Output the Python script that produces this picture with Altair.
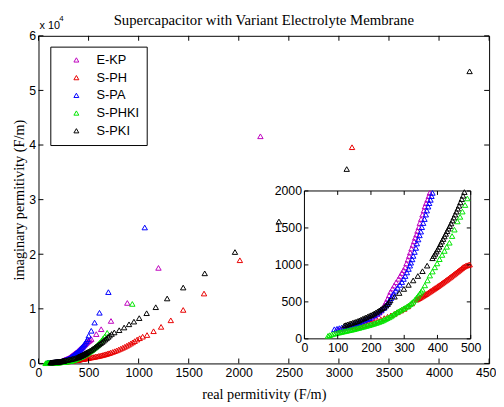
import altair as alt
import pandas as pd

chart_title = "Supercapacitor with Variant Electrolyte Membrane"
x_title = "real permitivity (F/m)"
y_title = "imaginary permitivity (F/m)"
exponent_base = "x 10"
exponent_power = "4"

series_names = ["E-KP", "S-PH", "S-PA", "S-PHKI", "S-PKI"]
series_colors = ["#BF00BF", "#E80000", "#0000FF", "#00E600", "#000000"]

# (real, imaginary) pairs
ekp = [(100,120),(108,127),(115,135),(122,142),(130,150),(138,160),(145,170),(152,180),(160,190),
       (168,202),(175,215),(182,230),(190,245),(198,265),(205,285),(212,310),(220,335),(225,355),
       (230,380),(235,415),(240,450),(245,495),(250,540),(255,590),(259,635),(265,680),(270,720),
       (276,765),(283,812),(288,850),(293,890),(298,930),(303,967),(307,1020),(311,1070),(315,1120),
       (318,1167),(322,1220),(326,1270),(330,1320),(333,1366),(337,1410),(340,1460),(344,1510),
       (347,1566),(351,1620),(355,1680),(359,1735),(362,1788),(366,1835),(370,1880),(374,1930),
       (377,1974),(385,2100),(395,2280),(405,2450),(415,2630),(425,2800),(435,2980),(445,3150),
       (455,3330),(465,3500),(475,3680),(485,3850),(495,4030),(505,4150),(515,4300),(527,4470),
       (577,5370),(626,6270),(724,7780),(887,11080),(1198,17500),(2216,41600)]

sph = [(150,150),(160,160),(170,172),(180,185),(190,198),(200,212),(210,228),(220,245),(230,262),
       (240,280),(250,298),(260,318),(270,338),(280,360),(290,383),(300,405),(311,440),(323,479),
       (337,530),(341,540),(345,550),(349,560),(353,571),(357,582),(361,593),(365,604),(369,615),
       (373,627),(377,639),(381,651),(385,663),(389,675),(393,687),(397,699),(401,712),(405,724),
       (409,737),(413,750),(417,763),(421,776),(425,789),(429,802),(433,815),(437,829),(441,842),
       (445,856),(449,870),(453,884),(457,898),(461,912),(465,926),(469,940),(473,955),(477,969),
       (481,980),(485,988),(489,995),(493,1000),(497,1005),(510,1040),(525,1090),(540,1140),
       (555,1190),(570,1240),(585,1300),(600,1360),(615,1420),(630,1490),(645,1560),(660,1630),
       (675,1710),(690,1790),(705,1880),(720,1970),(740,2100),(760,2240),(780,2380),(800,2530),
       (820,2690),(840,2860),(860,3040),(880,3230),(900,3430),(920,3640),(940,3860),(960,4090),
       (985,4380),(1010,4620),(1040,4900),(1084,5200),(1149,5900),(1224,6700),(1321,7900),
       (1445,9800),(1653,12800),(2011,18900),(3131,39600)]

spa = [(90,130),(98,137),(105,145),(112,152),(120,160),(128,170),(135,180),(142,190),(150,200),
       (158,212),(165,225),(172,237),(180,250),(188,265),(195,280),(202,300),(210,320),(218,342),
       (225,365),(232,392),(240,420),(245,450),(250,480),(255,515),(260,550),(264,580),(268,612),
       (274,650),(280,690),(287,730),(293,768),(298,810),(303,850),(308,898),(313,945),(317,990),
       (320,1030),(324,1075),(327,1122),(331,1175),(335,1230),(338,1290),(342,1344),(346,1400),
       (350,1450),(353,1510),(357,1566),(361,1620),(365,1680),(368,1735),(372,1788),(375,1835),
       (379,1880),(382,1930),(385,1974),(392,2100),(400,2250),(410,2450),(420,2650),(430,2850),
       (440,3050),(450,3300),(460,3550),(470,3800),(480,4100),(490,4450),(501,5080),(527,5980),
       (560,7480),(609,9280),(698,13060),(1061,24900)]

sphki = [(71,40),(76,50),(82,60),(88,68),(94,75),(100,82),(105,87),(110,92),(115,97),(120,102),
         (125,107),(130,112),(135,117),(140,122),(145,127),(150,133),(155,138),(160,144),(165,150),
         (170,156),(175,162),(180,168),(185,174),(190,180),(195,186),(200,193),(205,200),(210,207),
         (215,214),(220,222),(225,230),(230,238),(235,247),(239,257),(244,268),(249,280),(254,291),
         (259,302),(263,316),(268,330),(273,345),(278,360),(283,372),(288,385),(293,398),(298,410),
         (303,422),(308,435),(313,451),(318,468),(322,485),(327,502),(332,528),(337,555),(342,583),
         (347,612),(351,638),(355,665),(362,723),(370,790),(377,856),(385,910),(392,967),(399,1020),
         (406,1078),(414,1135),(421,1189),(428,1245),(436,1300),(444,1390),(451,1477),(460,1588),
         (468,1650),(475,1721),(483,1810),(490,1899),(500,2020),(510,2150),(520,2280),(530,2420),
         (540,2560),(550,2710),(560,2870),(570,3030),(580,3200),(590,3380),(600,3570),(615,3870),
         (630,4200),(645,4550),(660,4900),(686,5600),(937,10900)]

spki = [(120,180),(125,187),(130,195),(135,202),(140,210),(145,217),(150,225),(155,232),(160,240),
        (165,250),(170,260),(175,270),(180,280),(185,290),(190,300),(195,310),(200,320),(205,332),
        (210,345),(215,357),(220,370),(225,385),(230,400),(235,415),(240,430),(245,450),(250,470),
        (254,495),(258,520),(271,570),(285,620),(299,675),(313,730),(327,790),(341,850),(355,915),
        (369,990),(385,1090),(389,1120),(393,1150),(397,1180),(401,1210),(405,1245),(409,1280),
        (413,1315),(417,1350),(421,1385),(425,1420),(429,1455),(433,1490),(437,1525),(441,1560),
        (445,1600),(449,1640),(453,1680),(457,1720),(461,1760),(465,1800),(469,1845),(473,1890),
        (477,1935),(481,1985),(490,2080),(500,2200),(515,2350),(530,2500),(545,2700),(560,2900),
        (575,3100),(590,3300),(605,3500),(620,3700),(635,3920),(650,4150),(665,4380),(680,4600),
        (695,4850),(710,5100),(730,5400),(757,5680),(806,6090),(855,6580),(904,7170),(953,7660),
        (1006,8300),(1080,9200),(1171,10300),(1285,11900),(1445,13900),(1660,16500),(1962,20400),
        (2401,26000),(3078,35600),(4305,53500)]

main_x_ticks = [0, 500, 1000, 1500, 2000, 2500, 3000, 3500, 4000, 4500]
main_y_ticks = [0, 10000, 20000, 30000, 40000, 50000, 60000]
inset_x_ticks = [0, 100, 200, 300, 400, 500]
inset_y_ticks = [0, 500, 1000, 1500, 2000]

rows = []
for name, pts in zip(series_names, [ekp, sph, spa, sphki, spki]):
    for xv, yv in pts:
        rows.append({"series": name, "real": xv, "imag": yv})
df = pd.DataFrame(rows)

# layout (pixels)
W, H = 458, 333
INSET_XR = [270.3, 439.3]
INSET_YR = [308, 157.7]
SANS = "Liberation Sans Narrow, Liberation Sans, Arial, sans-serif"
SERIF = "Liberation Serif, Times New Roman, serif"
TICK_FS = 12.5

color_enc = alt.Color(
    "series:N",
    scale=alt.Scale(domain=series_names, range=series_colors),
    sort=series_names,
    legend=alt.Legend(
        title=None, orient="none", legendX=12, legendY=11,
        symbolType="triangle-up", symbolSize=25, symbolStrokeWidth=1,
        labelFont=SANS, labelFontSize=13, labelColor="black",
        strokeColor="black", fillColor="white", padding=7, rowPadding=4,
        symbolOffset=13, labelOffset=14,
    ),
)

# ---------- main plot ----------
mx_scale = alt.Scale(domain=[0, 4500], nice=False, zero=False)
my_scale = alt.Scale(domain=[0, 60000], nice=False, zero=False)
mx_axis = alt.Axis(values=main_x_ticks, format="d", ticks=False, domain=False, grid=False,
                   labelFont=SANS, labelFontSize=TICK_FS, labelColor="black", labelPadding=3,
                   labelFlush=False, labelOverlap=False,
                   title=x_title, titleFont=SERIF, titleFontSize=14.5, titleFontWeight="normal",
                   titleColor="black", titleY=36, titleBaseline="alphabetic", orient="bottom")
my_axis = alt.Axis(values=main_y_ticks, labelExpr="datum.value / 10000", ticks=False, domain=False,
                   grid=False, labelFont=SANS, labelFontSize=TICK_FS, labelColor="black", labelPadding=3,
                   labelFlush=False, labelOverlap=False,
                   title=y_title, titleFont=SERIF, titleFontSize=14.5, titleFontWeight="normal",
                   titleColor="black", titleX=-15, titleBaseline="alphabetic", orient="left")

main_points = alt.Chart(df).mark_point(shape="triangle-up", filled=False, size=30, strokeWidth=1, opacity=1).encode(
    x=alt.X("real:Q", scale=mx_scale, axis=mx_axis),
    y=alt.Y("imag:Q", scale=my_scale, axis=my_axis),
    color=color_enc,
)

xt_df = pd.DataFrame({"t": main_x_ticks})
yt_df = pd.DataFrame({"t": main_y_ticks})
mx_ticks_b = alt.Chart(xt_df).mark_rule(color="black", strokeWidth=1).encode(
    x=alt.X("t:Q", scale=mx_scale, axis=mx_axis), y=alt.value(H), y2=alt.value(H - 5))
mx_ticks_t = alt.Chart(xt_df).mark_rule(color="black", strokeWidth=1).encode(
    x=alt.X("t:Q", scale=mx_scale, axis=mx_axis), y=alt.value(0), y2=alt.value(5))
my_ticks_l = alt.Chart(yt_df).mark_rule(color="black", strokeWidth=1).encode(
    y=alt.Y("t:Q", scale=my_scale, axis=my_axis), x=alt.value(0), x2=alt.value(5))
my_ticks_r = alt.Chart(yt_df).mark_rule(color="black", strokeWidth=1).encode(
    y=alt.Y("t:Q", scale=my_scale, axis=my_axis), x=alt.value(W), x2=alt.value(W - 5))

title_txt = alt.Chart(pd.DataFrame({"t": [chart_title]})).mark_text(
    font=SERIF, fontSize=15, color="black", align="center", baseline="alphabetic").encode(
    x=alt.value(229), y=alt.value(-11), text="t:N")
exp_base = alt.Chart(pd.DataFrame({"t": [exponent_base]})).mark_text(
    font=SANS, fontSize=11, color="black", align="left", baseline="alphabetic").encode(
    x=alt.value(1), y=alt.value(-7), text="t:N")
exp_pow = alt.Chart(pd.DataFrame({"t": [exponent_power]})).mark_text(
    font=SANS, fontSize=8, color="black", align="left", baseline="alphabetic").encode(
    x=alt.value(21), y=alt.value(-15), text="t:N")

main = alt.layer(main_points, mx_ticks_b, mx_ticks_t, my_ticks_l, my_ticks_r,
                 title_txt, exp_base, exp_pow)

# ---------- inset ----------
ix_scale = alt.Scale(domain=[0, 500], range=INSET_XR, nice=False, zero=False)
iy_scale = alt.Scale(domain=[0, 2000], range=INSET_YR, nice=False, zero=False)
ix_axis = alt.Axis(values=inset_x_ticks, format="d", ticks=False, domain=False, grid=False, orient="bottom",
                   offset=-(H - INSET_YR[0]), labelFont=SANS, labelFontSize=TICK_FS, labelColor="black",
                   labelPadding=3, labelFlush=False, labelOverlap=False, title=None)
iy_axis = alt.Axis(values=inset_y_ticks, format="d", ticks=False, domain=False, grid=False, orient="left",
                   offset=-INSET_XR[0], labelFont=SANS, labelFontSize=TICK_FS, labelColor="black",
                   labelPadding=3, labelFlush=False, labelOverlap=False, title=None)

frame_df = pd.DataFrame({"x0": [0], "x1": [500], "y0": [0], "y1": [2000]})
inset_frame = alt.Chart(frame_df).mark_rect(fill="white", stroke="black", strokeWidth=1).encode(
    x=alt.X("x0:Q", scale=ix_scale, axis=ix_axis), x2="x1:Q",
    y=alt.Y("y0:Q", scale=iy_scale, axis=iy_axis), y2="y1:Q")

inset_points = alt.Chart(df).transform_filter(
    "datum.real <= 500 && datum.imag <= 2000").mark_point(
    shape="triangle-up", filled=False, size=30, strokeWidth=1, opacity=1).encode(
    x=alt.X("real:Q", scale=ix_scale, axis=ix_axis),
    y=alt.Y("imag:Q", scale=iy_scale, axis=iy_axis),
    color=color_enc,
)

ixt_df = pd.DataFrame({"t": inset_x_ticks})
iyt_df = pd.DataFrame({"t": inset_y_ticks})
ix_ticks_b = alt.Chart(ixt_df).mark_rule(color="black", strokeWidth=1).encode(
    x=alt.X("t:Q", scale=ix_scale, axis=ix_axis), y=alt.value(INSET_YR[0]), y2=alt.value(INSET_YR[0] - 4))
ix_ticks_t = alt.Chart(ixt_df).mark_rule(color="black", strokeWidth=1).encode(
    x=alt.X("t:Q", scale=ix_scale, axis=ix_axis), y=alt.value(INSET_YR[1]), y2=alt.value(INSET_YR[1] + 4))
iy_ticks_l = alt.Chart(iyt_df).mark_rule(color="black", strokeWidth=1).encode(
    y=alt.Y("t:Q", scale=iy_scale, axis=iy_axis), x=alt.value(INSET_XR[0]), x2=alt.value(INSET_XR[0] + 4))
iy_ticks_r = alt.Chart(iyt_df).mark_rule(color="black", strokeWidth=1).encode(
    y=alt.Y("t:Q", scale=iy_scale, axis=iy_axis), x=alt.value(INSET_XR[1]), x2=alt.value(INSET_XR[1] - 4))

inset = alt.layer(inset_frame, inset_points, ix_ticks_b, ix_ticks_t, iy_ticks_l, iy_ticks_r)

chart = alt.layer(main, inset).resolve_scale(
    x="independent", y="independent"
).resolve_axis(
    x="independent", y="independent"
).properties(
    width=W, height=H,
    padding={"left": 31, "top": 25, "right": 7, "bottom": 41},
    autosize=alt.AutoSizeParams(type="none"),
    background="white",
).configure_view(stroke="black", strokeWidth=1)

chart.save("out.html", embed_options={"renderer": "svg", "actions": False})
